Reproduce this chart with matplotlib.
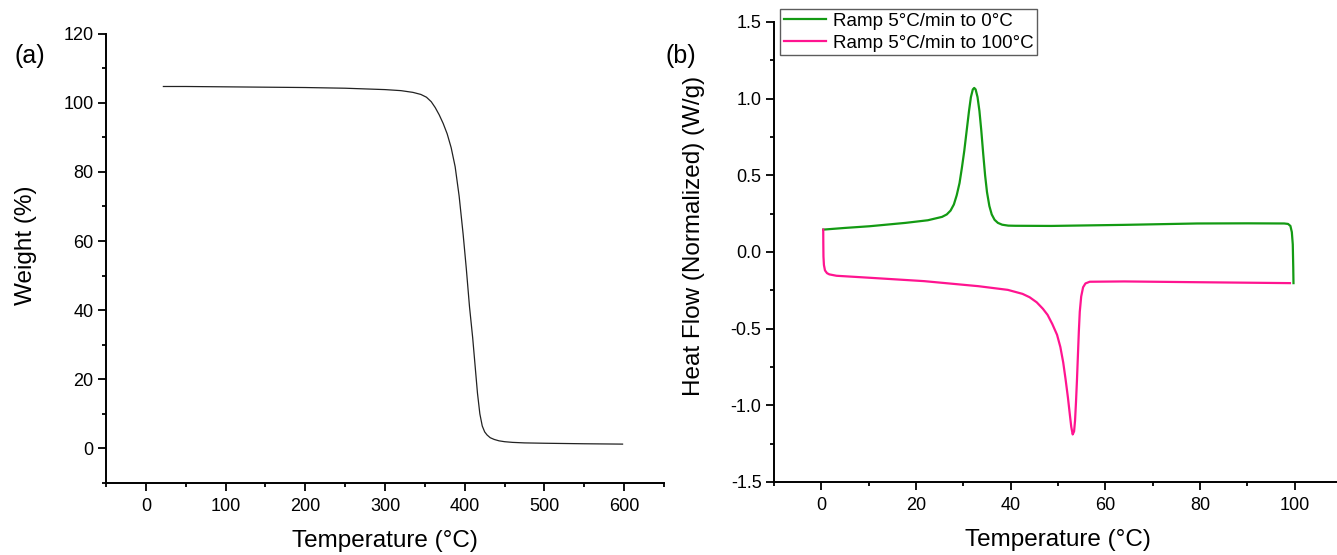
# TGA (a) and DSC (b) side by side
import matplotlib
matplotlib.use("Agg")
import matplotlib.pyplot as plt
from matplotlib.ticker import MultipleLocator

plt.rcParams['font.family'] = ['Liberation Sans', 'DejaVu Sans']

# --- TGA data ---
tga_temp = [22, 50, 100, 150, 200, 250, 300, 320, 335, 345, 352, 358, 363, 368,
            373, 378, 383, 388, 393, 398, 402, 406, 410, 413, 416, 419, 422, 425,
            428, 432, 437, 443, 450, 460, 475, 500, 550, 598]
tga_weight = [104.7, 104.7, 104.6, 104.5, 104.4, 104.2, 103.8, 103.5, 103.0, 102.4,
              101.6, 100.3, 98.6, 96.5, 94.0, 91.0, 87.0, 81.5, 73.0, 62.0, 52.0,
              41.0, 32.0, 24.0, 16.0, 10.0, 6.5, 4.8, 3.9, 3.1, 2.6, 2.2, 1.95,
              1.75, 1.6, 1.5, 1.35, 1.25]

# --- DSC data ---
cool_temp = [99.75, 99.7, 99.6, 99.4, 99.1, 98.6, 97.8, 90.0, 79.4, 64.0, 48.6, 41.0,
             39.5, 38.2, 37.3, 36.6, 36.0, 35.5, 35.0, 34.6, 34.2, 33.8, 33.4, 33.0,
             32.6, 32.3, 32.0, 31.6, 31.2, 30.7, 30.2, 29.7, 29.2, 28.6, 28.0, 27.3,
             26.5, 25.5, 22.5, 17.8, 10.2, 5.0, 0.4]
cool_flow = [-0.203, -0.1, 0.05, 0.13, 0.17, 0.183, 0.186, 0.187, 0.186, 0.177, 0.170,
             0.171, 0.172, 0.178, 0.19, 0.21, 0.245, 0.30, 0.39, 0.50, 0.64, 0.79,
             0.92, 1.01, 1.06, 1.07, 1.06, 1.01, 0.92, 0.79, 0.66, 0.55, 0.45, 0.37,
             0.31, 0.27, 0.245, 0.229, 0.207, 0.19, 0.168, 0.157, 0.146]

heat_temp = [0.4, 0.42, 0.45, 0.55, 0.77, 1.2, 1.7, 3.2, 10.2, 21.7, 33.2, 39.4, 42.5,
             44.0, 45.5, 46.8, 47.8, 48.8, 49.8, 50.5, 51.1, 51.6, 52.1, 52.5, 52.8,
             53.1, 53.4, 53.6, 53.8, 54.0, 54.2, 54.4, 54.6, 54.9, 55.3, 55.8, 56.7,
             64.0, 79.4, 99.0]
heat_flow = [0.146, 0.05, -0.03, -0.085, -0.12, -0.138, -0.146, -0.155, -0.168, -0.19,
             -0.223, -0.247, -0.273, -0.295, -0.328, -0.37, -0.41, -0.47, -0.54, -0.62,
             -0.72, -0.83, -0.95, -1.06, -1.14, -1.19, -1.17, -1.10, -0.98, -0.84,
             -0.68, -0.52, -0.39, -0.29, -0.23, -0.205, -0.194, -0.192, -0.197, -0.203]

cool_label = "Ramp 5°C/min to 0°C"
heat_label = "Ramp 5°C/min to 100°C"

W, H = 1337, 555
fig = plt.figure(figsize=(W / 100, H / 100), dpi=100)

def px_axes(x0, x1, y0, y1):
    return fig.add_axes([x0 / W, 1 - y1 / H, (x1 - x0) / W, (y1 - y0) / H])

def style(ax):
    for s in ['top', 'right']:
        ax.spines[s].set_visible(False)
    for s in ['left', 'bottom']:
        ax.spines[s].set_linewidth(1.4)
    ax.tick_params(which='major', direction='out', length=6, width=1.3, labelsize=13)
    ax.tick_params(which='minor', direction='out', length=3.2, width=1.3)
    ax.tick_params(axis='x', which='major', pad=4.5)
    ax.tick_params(axis='y', which='major', pad=3)

# (a) TGA
ax1 = px_axes(106, 664, 33.6, 483)
ax1.plot(tga_temp, tga_weight, color='#222222', lw=0.9)
ax1.set_xlim(-50, 650)
ax1.set_ylim(-10, 120)
ax1.xaxis.set_major_locator(MultipleLocator(100))
ax1.xaxis.set_minor_locator(MultipleLocator(50))
ax1.yaxis.set_major_locator(MultipleLocator(20))
ax1.yaxis.set_minor_locator(MultipleLocator(10))
style(ax1)
ax1.set_xlabel("Temperature (°C)", fontsize=17.5, labelpad=11)
ax1.set_ylabel("Weight (%)", fontsize=17.5)
ax1.yaxis.set_label_coords(-0.124, 0.528)

# (b) DSC
ax2 = px_axes(774, 1342, 22, 482)
ax2.plot(cool_temp, cool_flow, color='#139a13', lw=1.6, label=cool_label)
ax2.plot(heat_temp, heat_flow, color='#ff1490', lw=1.6, label=heat_label)
ax2.set_xlim(-10, 110)
ax2.set_ylim(-1.5, 1.5)
ax2.xaxis.set_major_locator(MultipleLocator(20))
ax2.xaxis.set_minor_locator(MultipleLocator(10))
ax2.yaxis.set_major_locator(MultipleLocator(0.5))
ax2.yaxis.set_minor_locator(MultipleLocator(0.25))
ax2.yaxis.set_major_formatter(lambda v, p: f"{v:.1f}")
style(ax2)
ax2.set_xlabel("Temperature (°C)", fontsize=17.5, labelpad=11)
ax2.set_ylabel("Heat Flow (Normalized) (W/g)", fontsize=17.5)
ax2.yaxis.set_label_coords(-0.121, 0.536)

leg = ax2.legend(loc='upper left', bbox_to_anchor=(780 / W, 1 - 9 / H),
                 bbox_transform=fig.transFigure, fontsize=13.5, frameon=True,
                 fancybox=False, borderpad=0.2, labelspacing=0.25,
                 handlelength=2.25, handletextpad=0.37, borderaxespad=0)
leg.get_frame().set_edgecolor('#333333')
leg.get_frame().set_linewidth(1.0)

fig.text(30 / W, 1 - 56 / H, "(a)", fontsize=18, ha='center', va='center')
fig.text(681 / W, 1 - 56 / H, "(b)", fontsize=18, ha='center', va='center')

fig.savefig("out.png", dpi=100)
